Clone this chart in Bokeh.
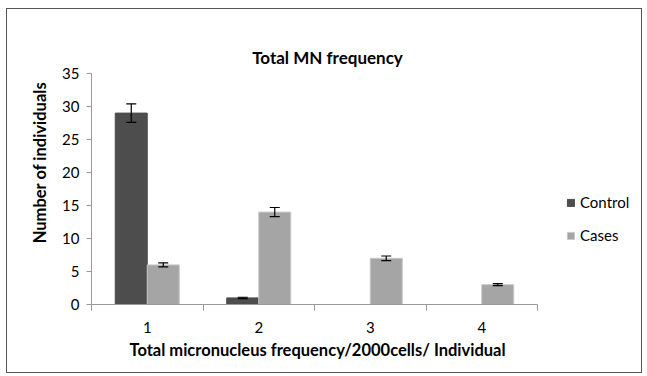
from bokeh.plotting import figure
from bokeh.models import (ColumnDataSource, Whisker, TeeHead, FixedTicker, Legend,
                          LegendItem, Label, Range1d, Title)
from bokeh.embed import file_html
from bokeh.resources import INLINE

categories = ["1", "2", "3", "4"]
control = [29, 1, 0, 0]
cases = [6, 14, 7, 3]
control_err = [1.4, 0.1, 0, 0]
cases_err = [0.3, 0.7, 0.35, 0.15]
y_ticks = [0, 5, 10, 15, 20, 25, 30, 35]
y_max = 35

FONT = "Lato"
C_CONTROL = "#4d4d4d"
C_CASES = "#a5a5a5"
BW = 0.287

xs = [i + 1 for i in range(len(categories))]

# layout (pixels)
W, H = 636, 365
ML, MR, MT, MB = 84, 4, 11, 70
PX_PER_CAT = 111.5
PX_PER_UNIT = 6.6
frame_w = W - ML - MR
frame_h = H - MT - MB
x_hi = 0.5 + frame_w / PX_PER_CAT
y_hi = frame_h / PX_PER_UNIT

p = figure(width=W, height=H, output_backend="svg", toolbar_location=None,
           x_range=Range1d(0.5, x_hi), y_range=Range1d(0, y_hi),
           min_border_left=ML, min_border_right=MR, min_border_top=MT, min_border_bottom=MB,
           styles={"border": "1px solid #555", "margin-left": "6px", "margin-top": "8px"})
p.outline_line_color = None
p.xgrid.visible = False
p.ygrid.visible = False

src_ctrl = ColumnDataSource(dict(x=[x - BW / 2 for x in xs], top=control))
src_case = ColumnDataSource(dict(x=[x + BW / 2 for x in xs], top=cases))
r1 = p.vbar(x="x", top="top", width=BW, source=src_ctrl, fill_color=C_CONTROL,
            line_color=C_CONTROL)
r2 = p.vbar(x="x", top="top", width=BW, source=src_case, fill_color=C_CASES,
            line_color="#c8c8c8")

# error bars (only where there is a bar)
ex, lo, up = [], [], []
for x, v, e in zip(xs, control, control_err):
    if v > 0:
        ex.append(x - BW / 2); lo.append(v - e); up.append(v + e)
for x, v, e in zip(xs, cases, cases_err):
    if v > 0:
        ex.append(x + BW / 2); lo.append(v - e); up.append(v + e)
esrc = ColumnDataSource(dict(x=ex, lower=lo, upper=up))
w = Whisker(base="x", lower="lower", upper="upper", source=esrc, dimension="height",
            line_color="black", line_width=1.2, level="overlay",
            upper_head=TeeHead(size=10, line_color="black", line_width=1.2),
            lower_head=TeeHead(size=10, line_color="black", line_width=1.2))
p.add_layout(w)

# x axis: labels at category centres, ticks between categories
p.xaxis.ticker = FixedTicker(ticks=xs, minor_ticks=[0.5, 1.5, 2.5, 3.5, 4.5])
p.xaxis.major_label_overrides = {x: c for x, c in zip(xs, categories)}
p.xaxis.bounds = (0.5, len(categories) + 0.5)
p.xaxis.major_tick_out = 0
p.xaxis.major_tick_in = 0
p.xaxis.minor_tick_out = 6
p.xaxis.minor_tick_in = 0
p.xaxis.major_label_standoff = 11

p.yaxis.ticker = FixedTicker(ticks=y_ticks, minor_ticks=[])
p.yaxis.bounds = (0, y_max)
p.yaxis.major_tick_out = 5
p.yaxis.major_tick_in = 0
p.yaxis.major_label_standoff = 7
p.yaxis.axis_label = "Number of individuals"
p.yaxis.axis_label_standoff = 9

for ax in (p.xaxis[0], p.yaxis[0]):
    ax.axis_line_color = "#9a9a9a"
    ax.major_tick_line_color = "#9a9a9a"
    ax.minor_tick_line_color = "#9a9a9a"
    ax.major_label_text_font = FONT
    ax.major_label_text_font_size = "15px"
    ax.major_label_text_color = "black"
    ax.axis_label_text_font = FONT
    ax.axis_label_text_font_size = "16.5px"
    ax.axis_label_text_font_style = "bold"
    ax.axis_label_text_color = "black"

# x-axis title, placed below the axis and centred under the category span
xtitle = Title(text="Total micronucleus frequency/2000cells/ Individual", align="left",
               offset=38, text_font=FONT, text_font_size="16.5px", text_font_style="bold",
               text_color="black", standoff=4)
p.add_layout(xtitle, "below")

# chart title drawn inside the (enlarged) frame
title = Label(x=236, y=247, x_units="screen", y_units="screen", text="Total MN frequency",
              text_font=FONT, text_font_size="17px", text_font_style="bold",
              text_align="center", text_baseline="middle", text_color="black")
p.add_layout(title)

legend = Legend(items=[LegendItem(label="Control", renderers=[r1]),
                       LegendItem(label="Cases", renderers=[r2])],
                location=(475, 59), orientation="vertical")
legend.padding = 0
legend.margin = 0
legend.border_line_color = None
legend.background_fill_alpha = 0
legend.glyph_width = 9
legend.glyph_height = 9
legend.label_standoff = 5
legend.spacing = 13
legend.label_height = 20
legend.label_text_font = FONT
legend.label_text_font_size = "15px"
legend.label_text_color = "black"
p.add_layout(legend)

open("out.html", "w").write(file_html(p, INLINE))
